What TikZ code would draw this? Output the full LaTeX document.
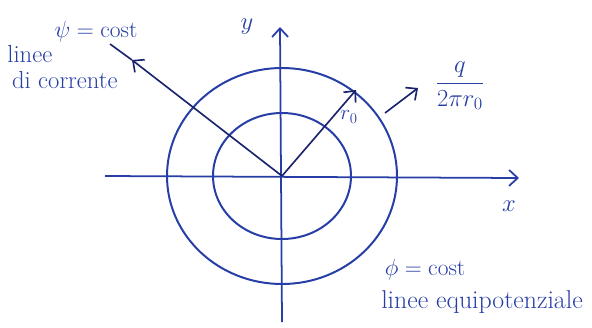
\RequirePackage{fix-cm}
\documentclass[tikz,border=0pt]{standalone}
\usepackage{amsmath}
\usepackage{xcolor}
\usetikzlibrary{arrows.meta,positioning}
\definecolor{ink}{RGB}{38,62,165}
\definecolor{darkink}{RGB}{25,35,110}

\begin{document}
\begin{tikzpicture}[
    x=0.03cm, y=-0.03cm,
    curve/.style={draw=ink, line width=1.7pt},
    axis/.style={-{Straight Barb[length=2.6mm, width=4.8mm]}, draw=ink, line width=1.5pt},
    arrow/.style={-{Straight Barb[length=2.6mm, width=4.8mm]}, draw=darkink, line width=1.4pt},
    tag/.style={text=ink, font=\fontsize{17}{20}\selectfont, inner sep=1pt, align=left}
]
    \useasboundingbox (0,0) rectangle (592,327);

    \coordinate (O) at (282,176);
    \coordinate (xstart) at (105,176);
    \coordinate (xend) at (519,178);
    \coordinate (ystart) at (282,322);
    \coordinate (yend) at (280,27);
    \coordinate (psihead) at (132,60);
    \coordinate (psiend) at (110,44);
    \coordinate (rhead) at (356,90);
    \coordinate (qstart) at (385,113);
    \coordinate (qhead) at (418,88);

    \draw [curve] (O) ellipse [x radius=115, y radius=108];
    \draw [curve] (O) ellipse [x radius=69, y radius=63];

    \draw [axis] (xstart) -- (xend);
    \draw [axis] (ystart) -- (yend);

    \draw [arrow] (O) -- (psihead);
    \draw [draw=darkink, line width=1.4pt] (psihead) -- (psiend);
    \draw [arrow] (O) -- (rhead);
    \draw [arrow] (qstart) -- (qhead);

    \node [tag, font=\fontsize{21}{22}\selectfont] (xlab) at (509,206) {$x$};
    \node [tag, font=\fontsize{21}{22}\selectfont] (ylab) at (247,27) {$y$};
    \node [tag, font=\fontsize{18}{20}\selectfont] (rlab) at (349,117) {$r_0$};
    \node [tag, font=\fontsize{21}{24}\selectfont] (flux) at (460,86) {$\dfrac{q}{2\pi r_0}$};
    \node [tag, font=\fontsize{20}{22}\selectfont] (psi) at (96,32) {$\psi=\text{cost}$};
    \node [tag, font=\fontsize{21}{22}\selectfont, anchor=north west] (stream) at (6,44) {linee\\\hspace*{4pt}di corrente};
    \node [tag, font=\fontsize{20}{22}\selectfont] (phi) at (425,270) {$\phi=\text{cost}$};
    \node [tag, font=\fontsize{22}{24}\selectfont] (equi) at (482,302) {linee equipotenziale};
\end{tikzpicture}
\end{document}
